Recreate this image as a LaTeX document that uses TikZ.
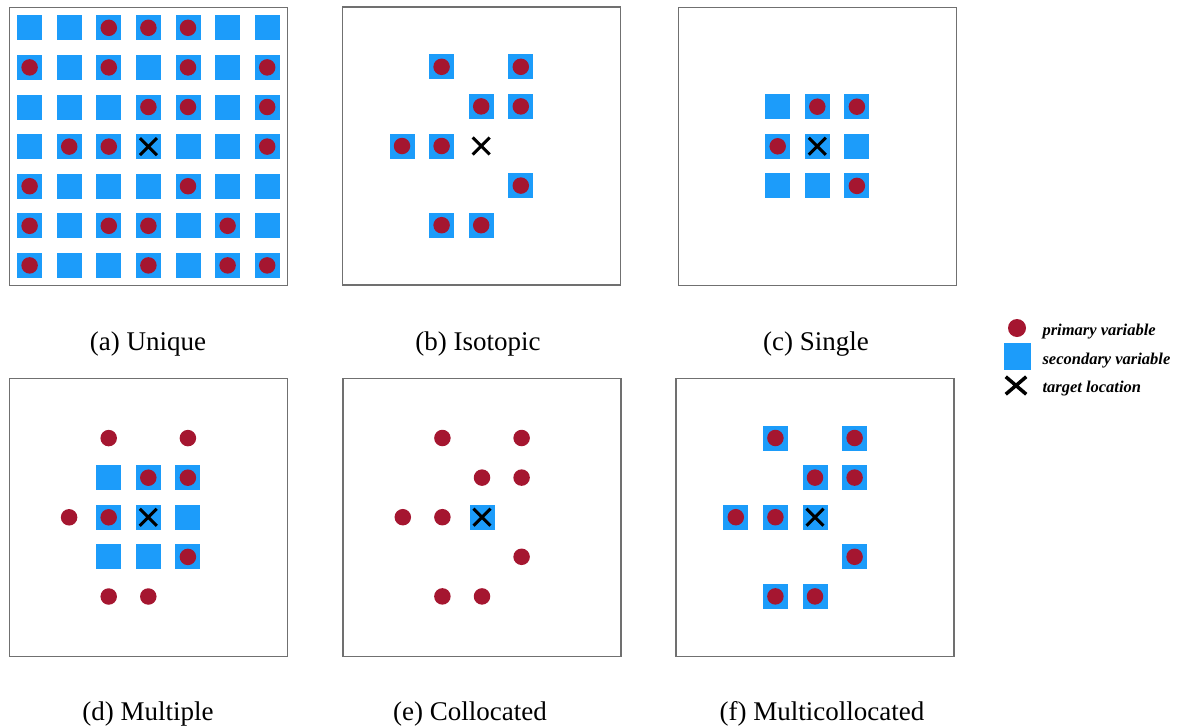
\documentclass[tikz,border=0pt]{standalone}
\usepackage{fontspec}
\setmainfont{Liberation Serif}
\usetikzlibrary{shapes.misc}
\definecolor{secblue}{RGB}{28,156,250}
\definecolor{primred}{RGB}{165,22,48}
\definecolor{framegray}{RGB}{112,112,112}
\tikzset{
  panel/.style={draw=framegray, line width=1.4pt, minimum size=278pt, inner sep=0pt},
  sec/.style={fill=secblue, minimum size=25pt, inner sep=0pt},
  prim/.style={circle, fill=primred, minimum size=16.5pt, inner sep=0pt},
  tgt/.style={cross out, draw=black, line width=3pt, minimum size=14pt, inner sep=0pt},
  caption/.style={font=\fontsize{27}{32}\selectfont, anchor=base},
  legtext/.style={font=\fontsize{16.5}{20}\selectfont\bfseries\itshape, anchor=base west},
  grid/.style={x=39.6pt, y=-39.6pt},
}
\begin{document}
\begin{tikzpicture}[x=1pt, y=-1pt]
\fill[white] (0,0) rectangle (1179,726);
\useasboundingbox (0,0) rectangle (1179,726);

% ---------- (a) Unique: full 7x7 grid of secondary data ----------
\node[panel] (pa) at (148.4,146.6) {};
\begin{scope}[shift={(148.4,146.6)}, grid]
  \foreach \c in {1,...,7}
    \foreach \r in {1,...,7}
      \node[sec] (a-s-\c-\r) at (\c-4,\r-4) {};
  \foreach \c/\r in {3/1,4/1,5/1,1/2,3/2,5/2,7/2,4/3,5/3,7/3,2/4,3/4,7/4,
                     1/5,5/5,1/6,3/6,4/6,6/6,1/7,4/7,6/7,7/7}
    \node[prim] (a-p-\c-\r) at (\c-4,\r-4) {};
  \node[tgt] (a-t) at (0,0) {};
\end{scope}

% ---------- (b) Isotopic ----------
\node[panel] (pb) at (481.2,146) {};
\begin{scope}[shift={(481.2,146)}, grid]
  \foreach \c/\r in {3/2,5/2,4/3,5/3,2/4,3/4,5/5,3/6,4/6} {
    \node[sec] (b-s-\c-\r) at (\c-4,\r-4) {};
    \node[prim] (b-p-\c-\r) at (\c-4,\r-4) {};
  }
  \node[tgt] (b-t) at (0,0) {};
\end{scope}

% ---------- (c) Single ----------
\node[panel] (pc) at (817.3,146.3) {};
\begin{scope}[shift={(817.3,146.3)}, grid]
  \foreach \c in {3,4,5}
    \foreach \r in {3,4,5}
      \node[sec] (c-s-\c-\r) at (\c-4,\r-4) {};
  \foreach \c/\r in {4/3,5/3,3/4,5/5}
    \node[prim] (c-p-\c-\r) at (\c-4,\r-4) {};
  \node[tgt] (c-t) at (0,0) {};
\end{scope}

% ---------- (d) Multiple ----------
\node[panel] (pd) at (148.3,517.3) {};
\begin{scope}[shift={(148.3,517.3)}, grid]
  \foreach \c in {3,4,5}
    \foreach \r in {3,4,5}
      \node[sec] (d-s-\c-\r) at (\c-4,\r-4) {};
  \foreach \c/\r in {3/2,5/2,4/3,5/3,2/4,3/4,5/5,3/6,4/6}
    \node[prim] (d-p-\c-\r) at (\c-4,\r-4) {};
  \node[tgt] (d-t) at (0,0) {};
\end{scope}

% ---------- (e) Collocated ----------
\node[panel] (pe) at (482,517.2) {};
\begin{scope}[shift={(482,517.2)}, grid]
  \node[sec] (e-s) at (0,0) {};
  \foreach \c/\r in {3/2,5/2,4/3,5/3,2/4,3/4,5/5,3/6,4/6}
    \node[prim] (e-p-\c-\r) at (\c-4,\r-4) {};
  \node[tgt] (e-t) at (0,0) {};
\end{scope}

% ---------- (f) Multicollocated ----------
\node[panel] (pf) at (815,517.2) {};
\begin{scope}[shift={(815,517.2)}, grid]
  \foreach \c/\r in {3/2,5/2,4/3,5/3,2/4,3/4,4/4,5/5,3/6,4/6}
    \node[sec] (f-s-\c-\r) at (\c-4,\r-4) {};
  \foreach \c/\r in {3/2,5/2,4/3,5/3,2/4,3/4,5/5,3/6,4/6}
    \node[prim] (f-p-\c-\r) at (\c-4,\r-4) {};
  \node[tgt] (f-t) at (0,0) {};
\end{scope}

% ---------- captions ----------
\node[caption] (ca) at (148,350) {(a) Unique};
\node[caption] (cb) at (478,350) {(b) Isotopic};
\node[caption] (cc) at (816,350) {(c) Single};
\node[caption] (cd) at (148,720) {(d) Multiple};
\node[caption] (ce) at (470,720) {(e) Collocated};
\node[caption] (cf) at (822,720) {(f) Multicollocated};

% ---------- legend ----------
\node[prim, minimum size=18pt] (lp) at (1017,328) {};
\node[sec, minimum size=27pt] (ls) at (1017,356.5) {};
\node[cross out, draw=black, line width=3.5pt, minimum width=17pt, minimum height=14pt, inner sep=0pt] (lt) at (1016,385.5) {};
\node[legtext] (lpt) at (1039,335.5) {primary variable};
\node[legtext] (lst) at (1039,364) {secondary variable};
\node[legtext] (ltt) at (1039,392.5) {target location};
\end{tikzpicture}
\end{document}
